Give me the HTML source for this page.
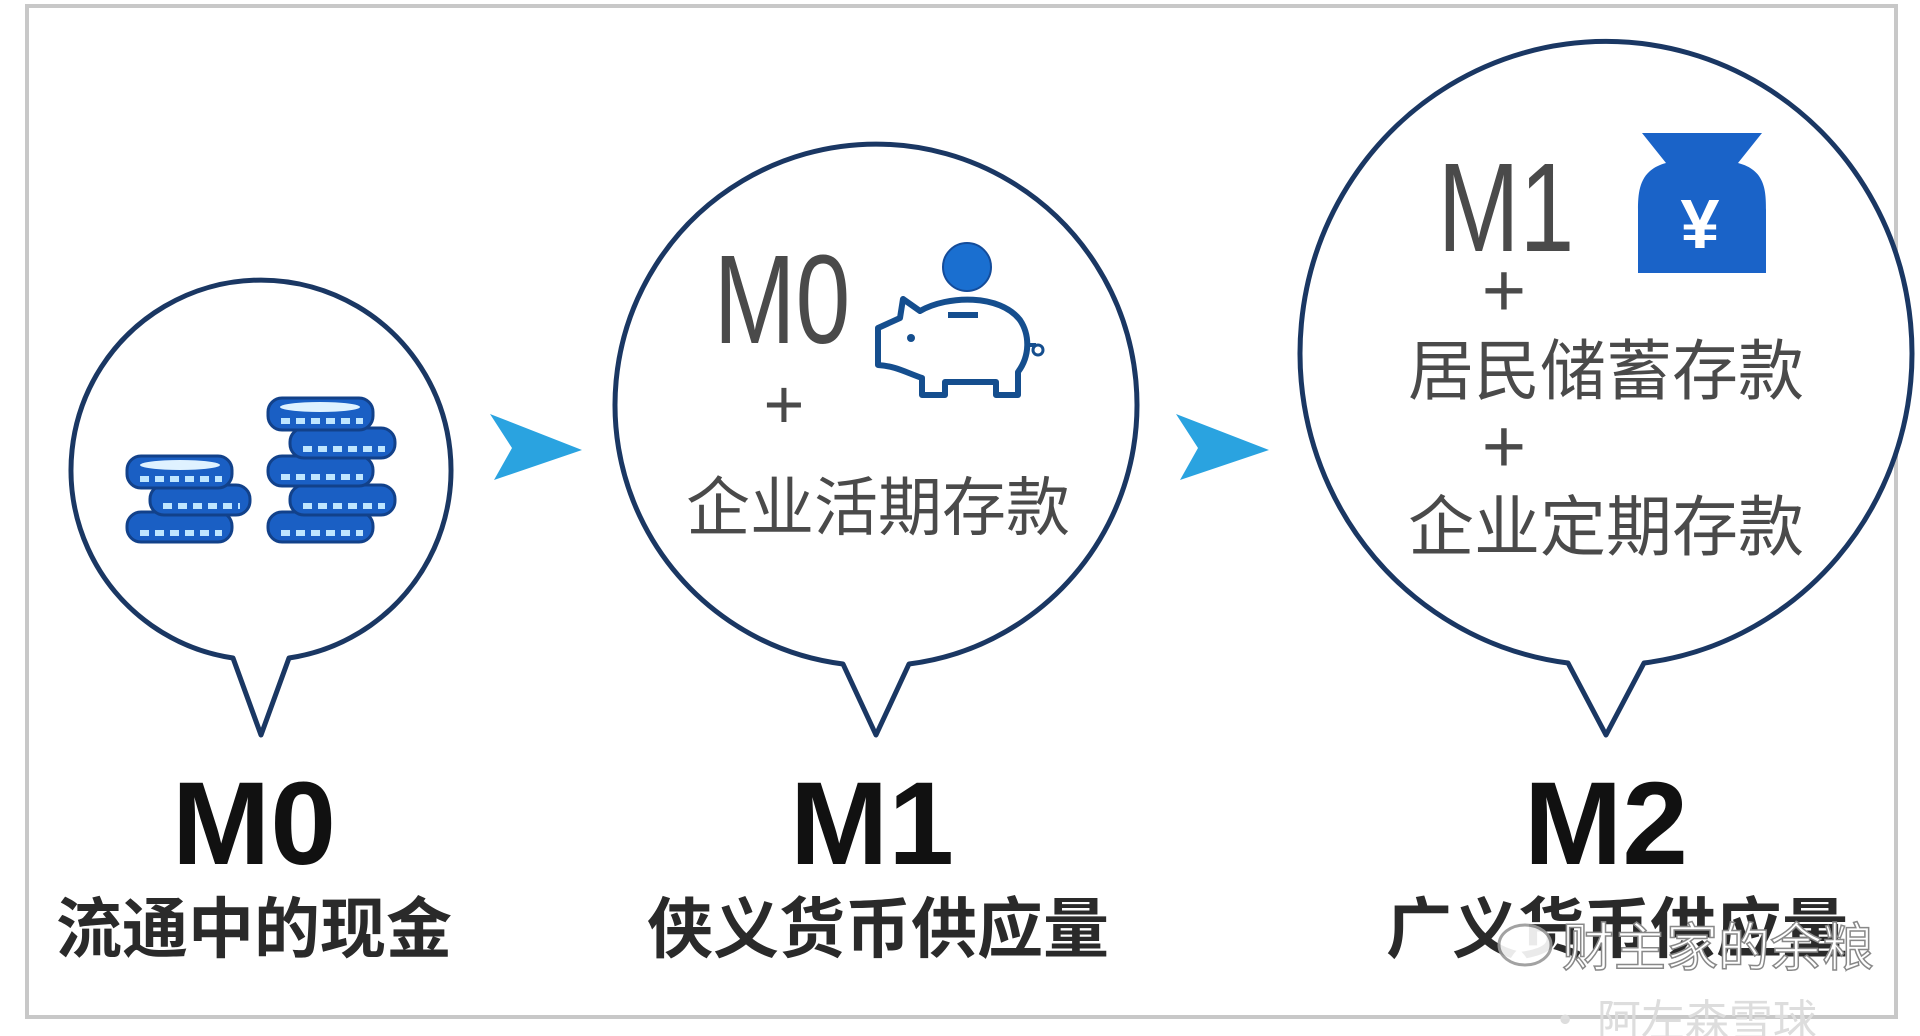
<!DOCTYPE html>
<html><head><meta charset="utf-8"><style>
html,body{margin:0;padding:0;background:#fff;}
svg{display:block;}
</style></head><body>
<svg width="1920" height="1036" viewBox="0 0 1920 1036" xmlns="http://www.w3.org/2000/svg">
<rect x="0" y="0" width="1920" height="1036" fill="#fff"/>
<rect x="27" y="6" width="1869" height="1011" fill="#fff" stroke="#c8c8c8" stroke-width="4"/>
<g fill="#fff" stroke="#1a3763" stroke-width="5" stroke-linejoin="round">
<path d="M233,658 A190,190 0 1 1 289,658 L261,735 Z"/>
<path d="M843,664 A261,261 0 1 1 909,664 L876,735 Z"/>
<path d="M1568,663 A306,312 0 1 1 1644,663 L1606,735 Z"/>
</g>
<g fill="#2aa3e0">
<path d="M490,414 L582,450 L494,480 L512,448 Z"/>
<path d="M1176,414 L1269,450 L1180,480 L1198,448 Z"/>
</g>
<!-- coins -->
<g fill="#1a5fc4" stroke="#12418a" stroke-width="3">
<rect x="127" y="512" width="105" height="30" rx="14"/>
<rect x="150" y="485" width="100" height="30" rx="14"/>
<rect x="127" y="456" width="105" height="32" rx="14"/>
<rect x="268" y="512" width="105" height="30" rx="14"/>
<rect x="290" y="485" width="105" height="30" rx="14"/>
<rect x="268" y="456" width="105" height="30" rx="14"/>
<rect x="290" y="428" width="105" height="30" rx="14"/>
<rect x="268" y="398" width="105" height="32" rx="14"/>
</g>
<g fill="none" stroke="#bfe6ff" stroke-width="6" stroke-dasharray="9 6">
<line x1="140" y1="533" x2="222" y2="533"/><line x1="163" y1="506" x2="240" y2="506"/><line x1="140" y1="479" x2="222" y2="479"/>
<line x1="281" y1="533" x2="363" y2="533"/><line x1="303" y1="506" x2="385" y2="506"/><line x1="281" y1="477" x2="363" y2="477"/><line x1="303" y1="449" x2="385" y2="449"/><line x1="281" y1="421" x2="363" y2="421"/>
</g>
<ellipse cx="180" cy="465" rx="40" ry="5" fill="#dff2ff"/>
<ellipse cx="320" cy="407" rx="40" ry="5" fill="#dff2ff"/>
<!-- piggy -->
<circle cx="967" cy="267" r="24" fill="#1a6fd0" stroke="#144c9a" stroke-width="2"/>
<path d="M878,328 L900,318 L903,299 L920,311 C948,295 1000,294 1020,320 C1030,335 1030,356 1018,372 L1018,395 L996,395 L996,382 L945,382 L945,395 L922,395 L922,378 C905,372 895,366 878,365 Z" fill="none" stroke="#154e8e" stroke-width="6" stroke-linejoin="round"/>
<line x1="948" y1="315" x2="978" y2="315" stroke="#154e8e" stroke-width="6"/>
<circle cx="911" cy="338" r="4" fill="#154e8e"/>
<path d="M1026,345 L1036,345" stroke="#154e8e" stroke-width="4"/>
<circle cx="1038" cy="350" r="5" fill="none" stroke="#154e8e" stroke-width="3"/>
<!-- bag -->
<path d="M1642,133 L1762,133 L1738,163 C1765,170 1766,190 1766,210 L1766,273 L1638,273 L1638,210 C1638,190 1640,170 1666,163 Z" fill="#1a63c8"/>
<text x="1700" y="248" font-family="Liberation Sans, sans-serif" font-weight="bold" font-size="70" fill="#fff" text-anchor="middle">¥</text>
<!-- texts -->
<g font-family="Liberation Sans, 'Noto Sans CJK SC', sans-serif" fill="#4a4a4a">
<text x="782" y="343" font-size="126" text-anchor="middle" transform="translate(782 0) scale(0.78 1) translate(-782 0)">M0</text>
<text x="784" y="428" font-size="70" text-anchor="middle">+</text>
<text x="878" y="530" font-size="64" text-anchor="middle" font-family="'Noto Sans CJK SC', sans-serif">企业活期存款</text>
<text x="1506" y="251" font-size="126" text-anchor="middle" transform="translate(1506 0) scale(0.78 1) translate(-1506 0)">M1</text>
<text x="1504" y="316" font-size="76" text-anchor="middle">+</text>
<text x="1606" y="394" font-size="66" text-anchor="middle" font-family="'Noto Sans CJK SC', sans-serif">居民储蓄存款</text>
<text x="1504" y="472" font-size="76" text-anchor="middle">+</text>
<text x="1606" y="550" font-size="66" text-anchor="middle" font-family="'Noto Sans CJK SC', sans-serif">企业定期存款</text>
</g>
<g font-family="Liberation Sans, sans-serif" font-weight="bold" fill="#111" text-anchor="middle" font-size="118">
<text x="254" y="864">M0</text>
<text x="872" y="864">M1</text>
<text x="1606" y="864">M2</text>
</g>
<g font-family="'Noto Sans CJK SC', sans-serif" font-weight="bold" fill="#2a2a2a" text-anchor="middle" font-size="66">
<text x="254" y="952">流通中的现金</text>
<text x="878" y="952">侠义货币供应量</text>
<text x="1617" y="952">广义货币供应量</text>
</g>
<g>
<ellipse cx="1525" cy="945" rx="26" ry="20" fill="#fff" stroke="#999" stroke-width="3" opacity="0.9"/>
<text x="1718" y="966" font-family="'Noto Sans CJK SC', sans-serif" font-size="52" fill="#fff" stroke="#888" stroke-width="1.5" text-anchor="middle">财主家的余粮</text>
<text x="1680" y="1036" font-family="'Noto Sans CJK SC', sans-serif" font-size="44" fill="#ddd" text-anchor="middle">· 阿左森雪球</text>
</g>
</svg>
</body></html>
